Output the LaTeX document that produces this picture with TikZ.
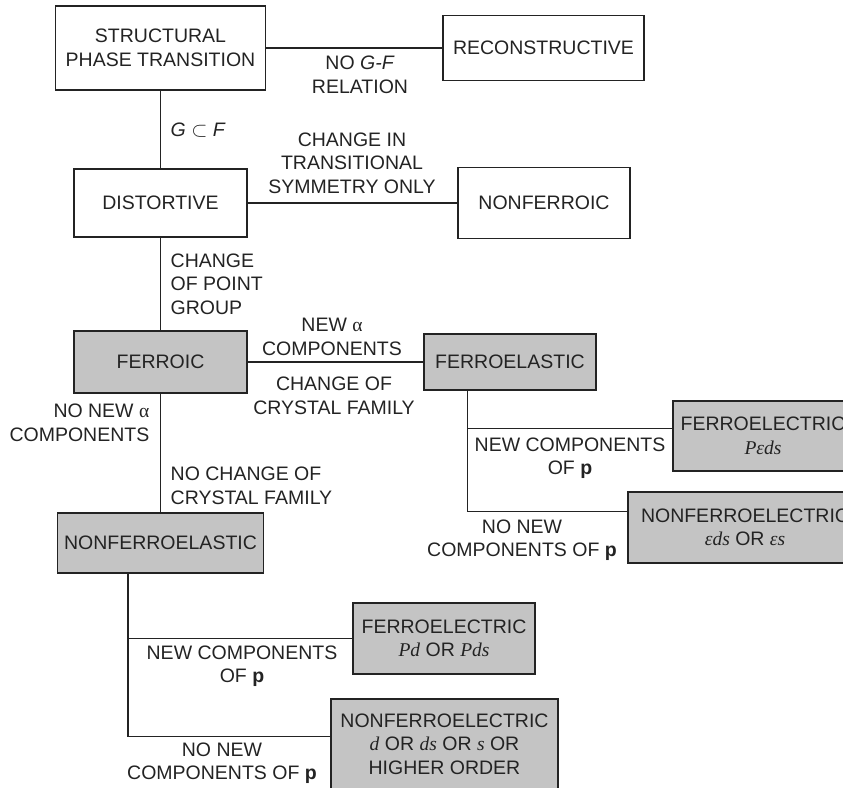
\documentclass[tikz,border=0pt]{standalone}
\usepackage{fontspec}
\setmainfont{Liberation Sans}
\newfontfamily\timesfont{Liberation Serif}
\usepackage{tikz}
\tikzset{font={\fontsize{19.5pt}{23.5pt}\selectfont}}
\usepackage{xcolor}
\definecolor{inkline}{RGB}{35,35,35}
\definecolor{boxgray}{RGB}{196,196,196}
\newcommand{\vsym}[1]{{\timesfont\itshape #1}}
\newcommand{\agreek}{{\timesfont α}}

\begin{document}
\begin{tikzpicture}[x=1pt,y=-1pt,line width=1.4pt,color=inkline,
                    plain box/.style={rectangle,draw,align=center,inner sep=0pt},
                    ferro box/.style={plain box,fill=boxgray},
                    lbl/.style={align=center,inner sep=0pt}]
  \useasboundingbox (0,0) rectangle (843,787);

  % boxes
  \node[plain box,minimum width=210pt,minimum height=84pt] (spt) at (160.5,48) {STRUCTURAL\\PHASE TRANSITION};
  \node[plain box,minimum width=201pt,minimum height=65pt] (recon) at (543.5,48) {RECONSTRUCTIVE};
  \node[plain box,minimum width=173pt,minimum height=68pt] (dist) at (160.5,203) {DISTORTIVE};
  \node[plain box,minimum width=172pt,minimum height=71pt] (nonferroic) at (544,203) {NONFERROIC};
  \node[ferro box,minimum width=173pt,minimum height=62pt] (ferroic) at (160.5,362) {FERROIC};
  \node[ferro box,minimum width=172pt,minimum height=56pt] (ferroelastic) at (510,362) {FERROELASTIC};
  \node[ferro box,minimum width=206pt,minimum height=60pt] (nonferroelastic) at (160.5,543) {NONFERROELASTIC};
  \node[ferro box,minimum width=180pt,minimum height=70pt] (fe1) at (763,436) {FERROELECTRIC\\\vsym{Pεds}};
  \node[ferro box,minimum width=234pt,minimum height=71pt] (nfe1) at (745,527.5) {NONFERROELECTRIC\\\vsym{εds} OR \vsym{εs}};
  \node[ferro box,minimum width=182pt,minimum height=71pt] (fe2) at (444,638.5) {FERROELECTRIC\\\vsym{Pd} OR \vsym{Pds}};
  \node[ferro box,minimum width=227pt,minimum height=90pt] (nfe2) at (444.5,744) {NONFERROELECTRIC\\\vsym{d} OR \vsym{ds} OR \vsym{s} OR\\HIGHER ORDER};

  \path
    (spt) edge (recon)
          edge (dist)
    (dist) edge (nonferroic)
           edge (ferroic)
    (ferroic) edge (ferroelastic)
              edge (nonferroelastic);

  % branches
  \draw ([xshift=44pt]ferroelastic.south west) |- ([yshift=-28pt]fe1.north west);
  \draw ([xshift=44pt]ferroelastic.south west) |- ([yshift=-20pt]nfe1.north west);
  \draw ([xshift=71pt]nonferroelastic.south west) |- (fe2.west);
  \draw ([xshift=71pt]nonferroelastic.south west) |- ([yshift=-38pt]nfe2.north west);

  % labels
  \node[lbl] (nogf) at (360,75) {NO \textit{G-F}\\RELATION};
  \node[lbl,anchor=west] (gsubf) at (170,130) {\textit{G} $\subset$ \textit{F}};
  \node[lbl] (transl) at (352,163) {CHANGE IN\\TRANSITIONAL\\SYMMETRY ONLY};
  \node[lbl,align=left,anchor=west] (pointgrp) at (170,284) {CHANGE\\OF POINT\\GROUP};
  \node[lbl] (newalpha) at (332,337) {NEW \agreek\\COMPONENTS};
  \node[lbl] (crystal) at (334,396) {CHANGE OF\\CRYSTAL FAMILY};
  \node[lbl,align=right,anchor=east] (nonewalpha) at (150,423) {NO NEW \agreek\\COMPONENTS};
  \node[lbl,align=left,anchor=west] (nocrystal) at (170,486) {NO CHANGE OF\\CRYSTAL FAMILY};
  \node[lbl] (newp1) at (570,458) {NEW COMPONENTS\\OF \textbf{p}};
  \node[lbl] (nonewp1) at (522,540) {NO NEW\\COMPONENTS OF \textbf{p}};
  \node[lbl] (newp2) at (242,666) {NEW COMPONENTS\\OF \textbf{p}};
  \node[lbl] (nonewp2) at (222,763) {NO NEW\\COMPONENTS OF \textbf{p}};
\end{tikzpicture}
\end{document}
